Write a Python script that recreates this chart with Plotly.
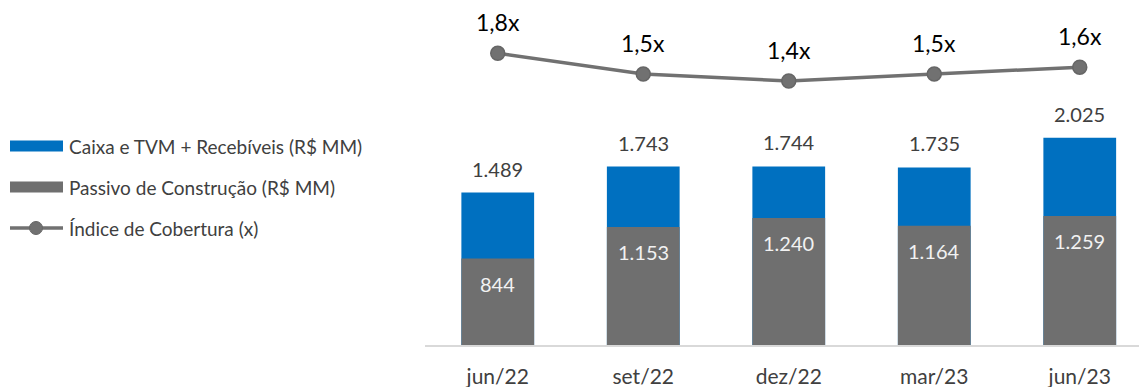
import plotly.graph_objects as go

# Dados do gráfico
periodos = ["jun/22", "set/22", "dez/22", "mar/23", "jun/23"]
caixa_recebiveis = [1489, 1743, 1744, 1735, 2025]      # Caixa e TVM + Recebíveis (R$ MM)
passivo_construcao = [844, 1153, 1240, 1164, 1259]     # Passivo de Construção (R$ MM)
indice_cobertura = [1.8, 1.5, 1.4, 1.5, 1.6]           # Índice de Cobertura (x)
nomes_series = [
    "Caixa e TVM + Recebíveis (R$ MM)",
    "Passivo de Construção (R$ MM)",
    "Índice de Cobertura (x)",
]

AZUL = "#0070C0"
CINZA = "#6F6F6F"
CINZA_LINHA = "#717171"
TEXTO = "#404040"
FONTE = "Lato"

W, H = 1139, 387
ML, MR, MT, MB = 425, 0, 0, 42
PW, PH = W - ML - MR, H - MT - MB


def fmt_milhar(v):
    return f"{v:,.0f}".replace(",", ".")


def fmt_indice(v):
    return f"{v:.1f}".replace(".", ",") + "x"


def px(x):
    return (x - ML) / PW


def py(y):
    return (H - MB - y) / PH


fig = go.Figure()

fig.add_trace(go.Bar(
    x=periodos, y=caixa_recebiveis, name=nomes_series[0],
    marker=dict(color=AZUL, line=dict(width=0)),
    showlegend=False, hoverinfo="skip",
))
fig.add_trace(go.Bar(
    x=periodos, y=passivo_construcao, name=nomes_series[1],
    marker=dict(color=CINZA, line=dict(width=0)),
    showlegend=False, hoverinfo="skip",
))
fig.add_trace(go.Scatter(
    x=periodos, y=indice_cobertura, name=nomes_series[2], yaxis="y2",
    mode="lines+markers",
    line=dict(color=CINZA_LINHA, width=3.5),
    marker=dict(size=14, color=CINZA_LINHA, line=dict(color="#666666", width=1.5)),
    showlegend=False, hoverinfo="skip",
))

anotacoes = []
# rótulos de total acima das barras azuis
for p, v in zip(periodos, caixa_recebiveis):
    anotacoes.append(dict(
        x=p, y=v, xref="x", yref="y", text=fmt_milhar(v), showarrow=False,
        yanchor="middle", yshift=24, font=dict(family=FONTE, size=20, color=TEXTO),
    ))
# rótulos dentro das barras cinzas
for p, v in zip(periodos, passivo_construcao):
    anotacoes.append(dict(
        x=p, y=v, xref="x", yref="y", text=fmt_milhar(v), showarrow=False,
        yanchor="middle", yshift=-25, font=dict(family=FONTE, size=20, color="#F2F2F2"),
    ))
# rótulos do índice de cobertura
for p, v in zip(periodos, indice_cobertura):
    anotacoes.append(dict(
        x=p, y=v, xref="x", yref="y2", text=fmt_indice(v), showarrow=False,
        yanchor="middle", yshift=31, font=dict(family=FONTE, size=23, color="#000000"),
    ))

# legenda à esquerda
formas = []
linhas_legenda = [146, 187, 228]
cores_legenda = [AZUL, CINZA]
for yc, cor in zip(linhas_legenda[:2], cores_legenda):
    formas.append(dict(
        type="rect", xref="paper", yref="paper",
        x0=px(10), x1=px(63), y0=py(yc + 5.5), y1=py(yc - 5.5),
        fillcolor=cor, line=dict(width=0),
    ))
yc = linhas_legenda[2]
formas.append(dict(
    type="line", xref="paper", yref="paper",
    x0=px(10), x1=px(63), y0=py(yc), y1=py(yc),
    line=dict(color=CINZA_LINHA, width=3.5),
))
formas.append(dict(
    type="circle", xref="paper", yref="paper",
    x0=px(36 - 6.5), x1=px(36 + 6.5), y0=py(yc + 6.5), y1=py(yc - 6.5),
    fillcolor=CINZA_LINHA, line=dict(color="#666666", width=1),
))
for yc, nome in zip(linhas_legenda, nomes_series):
    anotacoes.append(dict(
        x=px(67), y=py(yc), xref="paper", yref="paper", text=nome, showarrow=False,
        xanchor="left", yanchor="middle", font=dict(family=FONTE, size=19, color=TEXTO),
    ))

fig.update_layout(
    width=W, height=H,
    margin=dict(l=ML, r=MR, t=MT, b=MB),
    paper_bgcolor="white", plot_bgcolor="white",
    barmode="overlay", bargap=0.5,
    showlegend=False,
    separators=",.",
    font=dict(family=FONTE, color=TEXTO),
    xaxis=dict(
        type="category", range=[-0.5, -0.5 + PW / 145.5],
        showline=True, linecolor="#D9D9D9", linewidth=2,
        showgrid=False, zeroline=False, ticks="",
        ticklabelstandoff=12,
        tickfont=dict(family=FONTE, size=21, color=TEXTO),
        fixedrange=True,
    ),
    yaxis=dict(range=[0, 3370], visible=False, fixedrange=True),
    yaxis2=dict(range=[-2.412, 2.570], overlaying="y", visible=False, fixedrange=True),
    annotations=anotacoes,
    shapes=formas,
    hovermode=False,
)

fig.write_html("out.html", config={"displayModeBar": False})
